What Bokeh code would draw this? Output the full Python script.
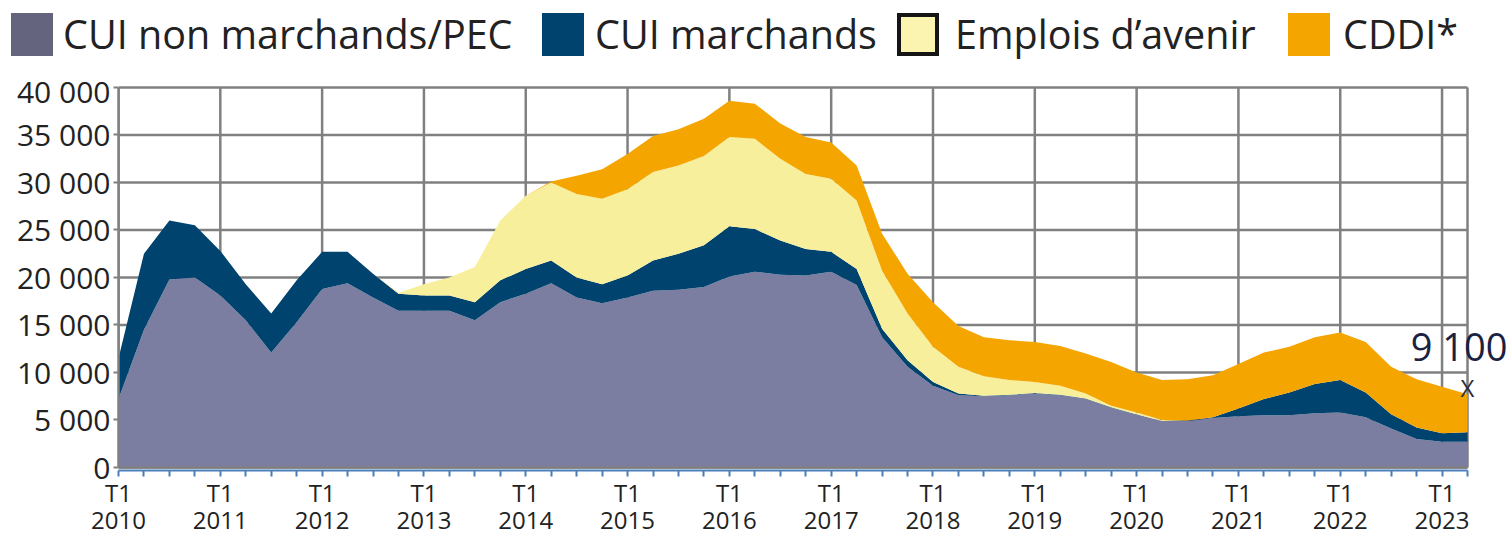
from bokeh.plotting import figure
from bokeh.models import ColumnDataSource, Range1d, FixedTicker, Label, Div
from bokeh.layouts import column
from bokeh.embed import file_html
from bokeh.resources import INLINE

# ---------------- data ----------------
years = list(range(2010, 2024))
# quarters T1 2010 .. T2 2023
quarter_year = [y for y in years for q in range(1, 5)][:54]
quarter_num = [q for y in years for q in range(1, 5)][:54]

cui_non_marchands = [7200, 14500, 19800, 20000, 18100, 15500, 12100, 15300, 18800, 19400,
                     17900, 16500, 16500, 16500, 15500, 17400, 18300, 19400, 17900, 17300,
                     17900, 18600, 18700, 19000, 20100, 20600, 20300, 20200, 20600, 19200,
                     13700, 10600, 8600, 7600, 7500, 7600, 7800, 7600, 7200, 6300,
                     5600, 4900, 4900, 5200, 5400, 5500, 5500, 5700, 5800, 5300,
                     4100, 3000, 2700, 2700]
cui_marchands = [4300, 8000, 6200, 5500, 4700, 3800, 4100, 4400, 3900, 3300,
                 2500, 1800, 1600, 1600, 1900, 2300, 2600, 2400, 2100, 2000,
                 2300, 3200, 3800, 4400, 5300, 4500, 3600, 2800, 2100, 1700,
                 900, 700, 400, 200, 50, 50, 50, 50, 50, 50,
                 0, 0, 50, 100, 800, 1700, 2400, 3100, 3400, 2600,
                 1500, 1200, 900, 1000]
emplois_avenir = [0, 0, 0, 0, 0, 0, 0, 0, 0, 0,
                  0, 100, 1200, 1900, 3700, 6300, 7700, 8200, 8800, 9000,
                  9100, 9300, 9300, 9400, 9400, 9500, 8600, 7900, 7700, 7200,
                  6100, 4900, 3700, 2800, 2050, 1550, 1150, 950, 550, 150,
                  200, 100, 0, 0, 0, 0, 0, 0, 0, 0,
                  0, 0, 0, 0]
cddi = [0, 0, 0, 0, 0, 0, 0, 0, 0, 0,
        0, 0, 0, 0, 0, 0, 0, 100, 1900, 3100,
        3700, 3800, 3800, 3900, 3800, 3700, 3700, 3900, 3800, 3700,
        3900, 4200, 4700, 4300, 4100, 4200, 4200, 4200, 4200, 4600,
        4200, 4200, 4350, 4400, 4700, 4900, 4800, 4900, 5000, 5300,
        5000, 5100, 4900, 4000]

series_names = ["CUI non marchands/PEC", "CUI marchands", "Emplois d\u2019avenir", "CDDI*"]
series_keys = ["non_march", "march", "eav", "cddi"]
area_colors = ["#7b7ea0", "#00436f", "#f8ef9c", "#f5a500"]
legend_colors = ["#64647f", "#00436f", "#fbf4b0", "#f5a500"]
legend_borders = ["none", "none", "4px solid #151515", "none"]

y_ticks = [0, 5000, 10000, 15000, 20000, 25000, 30000, 35000, 40000]
y_tick_labels = ["0", "5 000", "10 000", "15 000", "20 000", "25 000", "30 000", "35 000", "40 000"]

last_label = "9 100"
last_label_y = 12800
last_marker_y = 8400

# ---------------- sources ----------------
x = list(range(len(cui_non_marchands)))
x_last = x[-1]
src = ColumnDataSource(dict(x=x, non_march=cui_non_marchands, march=cui_marchands,
                            eav=emplois_avenir, cddi=cddi))

GRID = "#808080"
TXT = "#222222"
AXBLUE = "#4a7ebb"
FONT = "Open Sans"
LEG_H = 70

# ---------------- main figure ----------------
PPU_X = 1349 / 53.0
p = figure(frame_width=1392, frame_height=385,
           x_range=Range1d(0, 1392 / PPU_X), y_range=Range1d(-316, 40210),
           output_backend="svg", toolbar_location=None,
           min_border_left=118, min_border_right=0, min_border_top=85 - LEG_H,
           min_border_bottom=50)
p.outline_line_color = None
p.background_fill_color = "white"
p.xgrid.visible = False
p.ygrid.visible = False

# grid lines limited to the data area (drawn beneath the areas)
t1_idx = [i for i in x if quarter_num[i] == 1]
vx = t1_idx + [x_last]
p.segment(x0=vx, x1=vx, y0=[0] * len(vx), y1=[y_ticks[-1]] * len(vx),
          line_color=GRID, line_width=2.5, level="underlay")
p.segment(x0=[0] * len(y_ticks), x1=[x_last] * len(y_ticks), y0=y_ticks, y1=y_ticks,
          line_color=GRID, line_width=2.5, level="underlay")

p.varea_stack(stackers=series_keys, x="x", color=area_colors, source=src)

# baseline above the areas
p.segment(x0=[0], x1=[x_last], y0=[y_ticks[0]], y1=[y_ticks[0]],
          line_color=GRID, line_width=2.5, level="overlay")

# y axis
p.yaxis.ticker = FixedTicker(ticks=y_ticks)
p.yaxis.bounds = (y_ticks[0], y_ticks[-1])
p.yaxis.major_label_overrides = {t: l for t, l in zip(y_ticks, y_tick_labels)}
p.yaxis.axis_line_color = GRID
p.yaxis.axis_line_width = 2.5
p.yaxis.major_tick_line_color = GRID
p.yaxis.major_tick_line_width = 2
p.yaxis.major_tick_out = 5
p.yaxis.major_tick_in = 0
p.yaxis.minor_tick_line_color = None
p.yaxis.major_label_standoff = 3
p.yaxis.major_label_text_font = FONT
p.yaxis.major_label_text_font_size = "30px"
p.yaxis.major_label_text_color = TXT

# x axis
p.xaxis.ticker = FixedTicker(ticks=x)
p.xaxis.bounds = (x[0], x_last)
p.xaxis.major_label_overrides = {
    i: (f"T1\n{quarter_year[i]}" if quarter_num[i] == 1 else "") for i in x}
p.xaxis.axis_line_color = AXBLUE
p.xaxis.axis_line_width = 2
p.xaxis.major_tick_line_color = AXBLUE
p.xaxis.major_tick_line_width = 2
p.xaxis.major_tick_out = 6
p.xaxis.major_tick_in = 0
p.xaxis.minor_tick_line_color = None
p.xaxis.major_label_standoff = -1
p.xaxis.major_label_text_font = FONT
p.xaxis.major_label_text_font_size = "24px"
p.xaxis.major_label_text_color = TXT
p.xaxis.major_label_text_line_height = 0.82

p.add_layout(Label(x=x_last, y=last_label_y, text=last_label, text_align="right",
                   text_baseline="middle", x_offset=40, text_font=FONT,
                   text_font_size="38px", text_color="#1b2140"))
p.add_layout(Label(x=x_last, y=last_marker_y, text="X", text_align="center",
                   text_baseline="middle", text_font=FONT,
                   text_font_size="24px", text_color="#2e2e3c"))

# ---------------- legend (HTML strip above the chart) ----------------
sw_left = [11, 542, 897, 1288]
txt_left = [63, 595, 955, 1343]
parts = []
for name, fc, bd, sl, tl in zip(series_names, legend_colors, legend_borders, sw_left, txt_left):
    parts.append(
        f'<div style="position:absolute;left:{sl}px;top:13px;width:42px;height:43px;'
        f'box-sizing:border-box;background:{fc};border:{bd};"></div>'
        f'<span style="position:absolute;left:{tl}px;top:15px;font-family:\'{FONT}\';'
        f'font-size:39.5px;line-height:1;white-space:nowrap;color:{TXT};">{name}</span>')
legend_div = Div(text='<div style="position:relative;width:1510px;height:%dpx;">%s</div>'
                 % (LEG_H, "".join(parts)),
                 width=1510, height=LEG_H, margin=0)

layout = column(legend_div, p, spacing=0)
open("out.html", "w").write(file_html(layout, INLINE))
